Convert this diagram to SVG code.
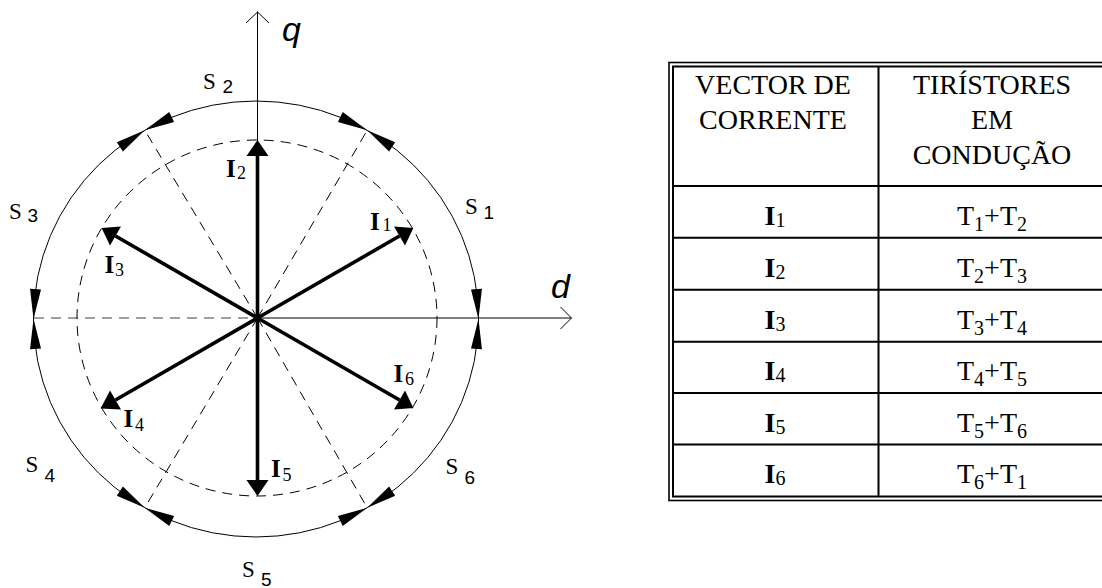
<svg xmlns="http://www.w3.org/2000/svg" xmlns:xlink="http://www.w3.org/1999/xlink" width="1102" height="588" viewBox="0 0 1102 588">
<style>
.thin{stroke:#000;stroke-width:1;fill:none}
.dash{stroke:#000;stroke-width:1;fill:none;stroke-dasharray:10 7}
.gdash{stroke:#808080;stroke-width:1.6;fill:none;stroke-dasharray:10 7}
.vec{stroke:#000;stroke-width:3.6;fill:none}
.head{fill:#000;stroke:none}
.ser{font-family:"Liberation Serif","Times New Roman",serif;font-size:23px;fill:#000}
.san{font-family:"Liberation Sans",Arial,sans-serif;font-size:19px;fill:#000}
.ax{font-family:"Liberation Sans",Arial,sans-serif;font-style:italic;font-size:34px;fill:#000}
.lbI{font-family:"Liberation Serif","Times New Roman",serif;font-weight:bold;font-size:25px}
.lbs{font-family:"Liberation Serif","Times New Roman",serif;font-size:18px}
.hd{font-family:"Liberation Serif","Times New Roman",serif;font-size:28px;text-anchor:middle;fill:#000}
.tb{font-family:"Liberation Serif","Times New Roman",serif;font-size:28px;text-anchor:middle;fill:#000}
.sub{font-size:20px}
.tl{stroke:#000;stroke-width:2;fill:none}
</style>
<defs>
<polygon id="ah" points="0,0 -30,-5.5 -30,5.5" fill="#000"/>
</defs>
<rect width="1102" height="588" fill="#fff"/>

<g id="connectors">
  <g id="axis-q">
    <line class="thin" x1="257.5" y1="318" x2="257.5" y2="12"/>
    <polyline class="thin" points="246,23 257.5,12 269,23"/>
  </g>
  <g id="axis-d">
    <line class="thin" x1="257.5" y1="318" x2="571.5" y2="318"/>
    <polyline class="thin" points="560.5,307 571.5,318 560.5,329"/>
  </g>
  <line id="axis-d-neg" class="gdash" x1="34" y1="318" x2="257.5" y2="318"/>
  <g id="boundaries">
    <line class="dash" x1="257.5" y1="318" x2="367.25" y2="130.2"/>
    <line class="dash" x1="257.5" y1="318" x2="144.75" y2="130.2"/>
    <line class="dash" x1="257.5" y1="318" x2="144.75" y2="507.8"/>
    <line class="dash" x1="257.5" y1="318" x2="367.25" y2="507.8"/>
  </g>
  <ellipse id="inner-circle" class="dash" cx="257" cy="318" rx="180" ry="178"/>
  <ellipse id="outer-circle" class="thin" cx="256" cy="319" rx="222.5" ry="218"/>
  <g id="sector-arrows">
    <use xlink:href="#ah" transform="translate(478.5,319) rotate(86.1)"/>
    <use xlink:href="#ah" transform="translate(478.5,319) rotate(273.9)"/>
    <use xlink:href="#ah" transform="translate(367.25,130.2) rotate(26.1)"/>
    <use xlink:href="#ah" transform="translate(367.25,130.2) rotate(213.9)"/>
    <use xlink:href="#ah" transform="translate(144.75,130.2) rotate(-33.9)"/>
    <use xlink:href="#ah" transform="translate(144.75,130.2) rotate(153.9)"/>
    <use xlink:href="#ah" transform="translate(33.5,319) rotate(-93.9)"/>
    <use xlink:href="#ah" transform="translate(33.5,319) rotate(93.9)"/>
    <use xlink:href="#ah" transform="translate(144.75,507.8) rotate(-153.9)"/>
    <use xlink:href="#ah" transform="translate(144.75,507.8) rotate(33.9)"/>
    <use xlink:href="#ah" transform="translate(367.25,507.8) rotate(146.1)"/>
    <use xlink:href="#ah" transform="translate(367.25,507.8) rotate(-26.1)"/>
  </g>
</g>

<g id="vector-I1">
  <line class="vec" x1="257.5" y1="318" x2="399.5" y2="236"/>
  <polygon class="head" points="413.4,228 405,245.5 394,226.5"/>
  <text x="370" y="230"><tspan class="lbI">I</tspan><tspan class="lbs" x="382.5" y="231">1</tspan></text>
</g>
<g id="vector-I2">
  <line class="vec" x1="257.5" y1="318" x2="257.5" y2="156"/>
  <polygon class="head" points="257.5,140 246.5,156 268.5,156"/>
  <text x="226" y="176.7"><tspan class="lbI">I</tspan><tspan class="lbs" x="237" y="178.5">2</tspan></text>
</g>
<g id="vector-I3">
  <line class="vec" x1="257.5" y1="318" x2="115.5" y2="236"/>
  <polygon class="head" points="101.6,228 121,226.5 110,245.5"/>
  <text x="104.5" y="273"><tspan class="lbI">I</tspan><tspan class="lbs" x="115" y="276">3</tspan></text>
</g>
<g id="vector-I4">
  <line class="vec" x1="257.5" y1="318" x2="115.5" y2="400"/>
  <polygon class="head" points="100.6,408.5 110,390.5 121,409.5"/>
  <text x="123.5" y="427.3"><tspan class="lbI">I</tspan><tspan class="lbs" x="135" y="430.7">4</tspan></text>
</g>
<g id="vector-I5">
  <line class="vec" x1="257.5" y1="318" x2="257.5" y2="480"/>
  <polygon class="head" points="257.5,496 246.5,480 268.5,480"/>
  <text x="271" y="476.7"><tspan class="lbI">I</tspan><tspan class="lbs" x="282.5" y="480.7">5</tspan></text>
</g>
<g id="vector-I6">
  <line class="vec" x1="257.5" y1="318" x2="399.5" y2="400"/>
  <polygon class="head" points="413.4,408 394,409.5 405,390.5"/>
  <text x="393.5" y="381.7"><tspan class="lbI">I</tspan><tspan class="lbs" x="405" y="385">6</tspan></text>
</g>

<g id="axis-labels">
  <text class="ax" x="282" y="41">q</text>
  <text class="ax" x="551" y="298">d</text>
</g>

<g id="sector-labels">
  <text id="S1"><tspan class="ser" x="465" y="214">S</tspan><tspan class="san" x="483.5" y="218.5">1</tspan></text>
  <text id="S2"><tspan class="ser" x="203" y="89">S</tspan><tspan class="san" x="222.5" y="93">2</tspan></text>
  <text id="S3"><tspan class="ser" x="9" y="219">S</tspan><tspan class="san" x="27.5" y="222">3</tspan></text>
  <text id="S4"><tspan class="ser" x="25.5" y="472">S</tspan><tspan class="san" x="44.5" y="482">4</tspan></text>
  <text id="S5"><tspan class="ser" x="242" y="577">S</tspan><tspan class="san" x="261" y="585.5">5</tspan></text>
  <text id="S6"><tspan class="ser" x="445.5" y="474">S</tspan><tspan class="san" x="464.5" y="483.5">6</tspan></text>
</g>

<g id="table">
  <rect x="669" y="62.5" width="450" height="438" fill="none" stroke="#000" stroke-width="1.6"/>
  <rect x="673" y="66.5" width="440" height="430" fill="none" stroke="#000" stroke-width="2"/>
  <line class="tl" x1="878.5" y1="66.5" x2="878.5" y2="496.5"/>
  <line class="tl" x1="673" y1="186" x2="1110" y2="186"/>
  <line class="tl" x1="673" y1="237.7" x2="1110" y2="237.7"/>
  <line class="tl" x1="673" y1="289.7" x2="1110" y2="289.7"/>
  <line class="tl" x1="673" y1="341.8" x2="1110" y2="341.8"/>
  <line class="tl" x1="673" y1="393" x2="1110" y2="393"/>
  <line class="tl" x1="673" y1="444.4" x2="1110" y2="444.4"/>
  <g id="header">
    <text class="hd" x="773" y="94.3">VECTOR DE</text>
    <text class="hd" x="773" y="129">CORRENTE</text>
    <text class="hd" x="992" y="94.3">TIRÍSTORES</text>
    <text class="hd" x="992" y="129">EM</text>
    <text class="hd" x="992" y="164">CONDUÇÃO</text>
  </g>
  <g id="row1"><text class="tb" x="775" y="225"><tspan font-weight="bold">I</tspan><tspan class="sub" dy="2">1</tspan></text><text class="tb" x="992" y="225">T<tspan class="sub" dy="6">1</tspan><tspan dy="-6">+T</tspan><tspan class="sub" dy="6">2</tspan></text></g>
  <g id="row2"><text class="tb" x="775" y="276.5"><tspan font-weight="bold">I</tspan><tspan class="sub" dy="2">2</tspan></text><text class="tb" x="992" y="276.5">T<tspan class="sub" dy="6">2</tspan><tspan dy="-6">+T</tspan><tspan class="sub" dy="6">3</tspan></text></g>
  <g id="row3"><text class="tb" x="775" y="328.5"><tspan font-weight="bold">I</tspan><tspan class="sub" dy="2">3</tspan></text><text class="tb" x="992" y="328.5">T<tspan class="sub" dy="6">3</tspan><tspan dy="-6">+T</tspan><tspan class="sub" dy="6">4</tspan></text></g>
  <g id="row4"><text class="tb" x="775" y="380"><tspan font-weight="bold">I</tspan><tspan class="sub" dy="2">4</tspan></text><text class="tb" x="992" y="380">T<tspan class="sub" dy="6">4</tspan><tspan dy="-6">+T</tspan><tspan class="sub" dy="6">5</tspan></text></g>
  <g id="row5"><text class="tb" x="775" y="431.5"><tspan font-weight="bold">I</tspan><tspan class="sub" dy="2">5</tspan></text><text class="tb" x="992" y="431.5">T<tspan class="sub" dy="6">5</tspan><tspan dy="-6">+T</tspan><tspan class="sub" dy="6">6</tspan></text></g>
  <g id="row6"><text class="tb" x="775" y="483"><tspan font-weight="bold">I</tspan><tspan class="sub" dy="2">6</tspan></text><text class="tb" x="992" y="483">T<tspan class="sub" dy="6">6</tspan><tspan dy="-6">+T</tspan><tspan class="sub" dy="6">1</tspan></text></g>
</g>
</svg>
